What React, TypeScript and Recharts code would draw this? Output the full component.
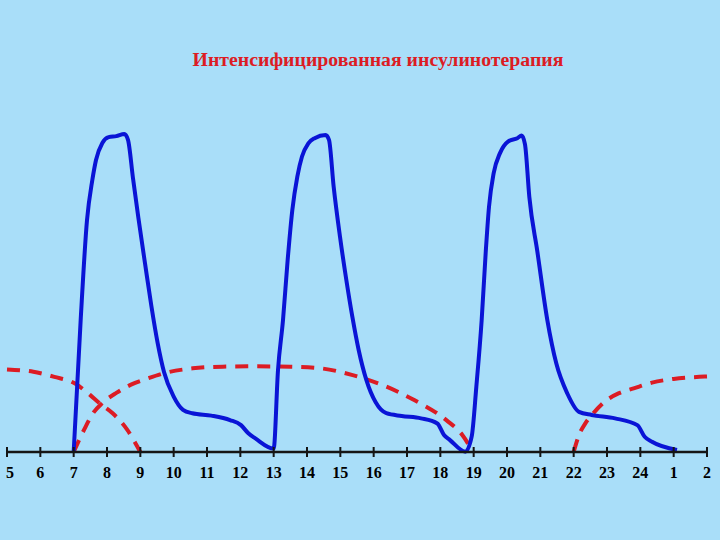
import { Line, LineChart, XAxis, YAxis } from "recharts";

// Hour-of-day axis: 5 ... 24, then 1, 2 of the next day (25, 26 internally).
const TICK_HOURS = [5, 6, 7, 8, 9, 10, 11, 12, 13, 14, 15, 16, 17, 18, 19, 20, 21, 22, 23, 24, 25, 26];
const TICK_LABELS = ["5", "6", "7", "8", "9", "10", "11", "12", "13", "14", "15", "16", "17", "18", "19", "20", "21", "22", "23", "24", "1", "2"];

// Short-acting insulin before each meal (7, 13, 19 h) - one continuous trace.
const SHORT_ACTING: [number, number][] = [
  [7.0, 0], [7.21, 38.8], [7.4, 68.2], [7.56, 80], [7.67, 85.9], [7.86, 90.9], [8.05, 92.6],
  [8.28, 92.9], [8.52, 93.5], [8.63, 91.8], [8.78, 80.5], [8.94, 69], [9.14, 55.5], [9.33, 43],
  [9.52, 32], [9.71, 23.5], [10.0, 16.3], [10.28, 12.4], [10.56, 11.4], [11.13, 10.7], [11.69, 9.4],
  [12.02, 7.9], [12.24, 5.5], [12.45, 4], [13.0, 1],
  [13.13, 24.1], [13.28, 38.8], [13.42, 56.5], [13.56, 71.2], [13.71, 81], [13.85, 86.9], [14.04, 90.8],
  [14.23, 92.3], [14.56, 93.2], [14.66, 91.8], [14.8, 78], [14.99, 63.3], [15.18, 50.6], [15.36, 39.8],
  [15.55, 30], [15.78, 21.2], [16.06, 14.6], [16.38, 11.4], [16.84, 10.6], [17.42, 9.9], [17.91, 8.4],
  [18.11, 5], [18.29, 3.5], [18.75, 0.1],
  [18.94, 4.5], [19.08, 19.2], [19.24, 38.8], [19.36, 58.5], [19.46, 72.1], [19.6, 82], [19.79, 87.9],
  [20.03, 91.3], [20.31, 92.3], [20.44, 93.1], [20.54, 90.5], [20.67, 75], [20.91, 59], [21.21, 38.8],
  [21.48, 26], [21.81, 17.2], [22.16, 11.8], [22.54, 10.9], [23.24, 9.9], [23.91, 7.9], [24.13, 4.5],
  [24.35, 3], [25.1, 0.6],
];

// Basal (intermediate) insulin, dashed: night dose tail, morning dose, evening dose.
const BASAL_NIGHT: [number, number][] = [
  [5.0, 24.3], [5.79, 23.6], [6.42, 22.1], [7.03, 20.2], [7.49, 16.8], [7.77, 14.4], [8.17, 11.4],
  [8.61, 6.5], [9.0, 0],
];
const BASAL_MORNING: [number, number][] = [
  [7.0, 0], [7.31, 6.5], [7.58, 11.4], [7.86, 14.4], [8.28, 17.4], [8.72, 19.8], [9.24, 21.7],
  [9.76, 23.3], [10.57, 24.6], [11.47, 25.1], [12.45, 25.2], [13.5, 25.1], [14.42, 24.6], [15.37, 22.6],
  [16.29, 19.6], [17.23, 15.2], [18.19, 9.3], [18.66, 5], [18.98, 0],
];
const BASAL_EVENING: [number, number][] = [
  [22.0, 0], [22.16, 5], [22.35, 8.4], [22.59, 11.4], [22.93, 14.8], [23.36, 17.3], [23.8, 18.7],
  [24.35, 20.4], [25.0, 21.5], [25.77, 22.1], [26.0, 22.2],
];

const toRows = (pts: [number, number][]) => pts.map(([h, v]) => ({ h, v }));

const COLORS = {
  bg: "#A9DEF9",
  blue: "#0A14D6",
  red: "#DC1C24",
  axis: "#151515",
};

const SERIF = "'Liberation Serif', 'Times New Roman', serif";

function HourTick({ x, y, index }: any) {
  return (
    <g>
      <line x1={x} x2={x} y1={y - 5} y2={y + 5} stroke={COLORS.axis} strokeWidth={2} />
      <text
        x={x}
        y={y + 26}
        dx={index === 0 ? 3 : 0}
        textAnchor="middle"
        fontFamily={SERIF}
        fontWeight="bold"
        fontSize={16}
        fill="#000"
      >
        {TICK_LABELS[index]}
      </text>
    </g>
  );
}

export default function App() {
  return (
    <div style={{ position: "absolute", left: 0, top: 0, width: 720, height: 540, background: COLORS.bg }}>
      <div
        style={{
          position: "absolute",
          left: 378,
          top: 50,
          transform: "translateX(-50%)",
          whiteSpace: "nowrap",
          fontFamily: SERIF,
          fontWeight: "bold",
          fontSize: 19.8,
          lineHeight: 1,
          color: COLORS.red,
        }}
      >
        Интенсифицированная инсулинотерапия
      </div>
      <LineChart width={720} height={540} margin={{ top: 112, right: 13, left: 7, bottom: 58 }}>
        <XAxis
          dataKey="h"
          type="number"
          domain={[5, 26]}
          ticks={TICK_HOURS}
          interval={0}
          height={30}
          tickSize={0}
          tickMargin={0}
          tickLine={false}
          tick={<HourTick />}
          axisLine={{ stroke: COLORS.axis, strokeWidth: 2.5 }}
          allowDuplicatedCategory={false}
        />
        <YAxis hide type="number" domain={[0, 100]} />
        <Line
          data={toRows(BASAL_NIGHT)}
          dataKey="v"
          type="monotone"
          stroke={COLORS.red}
          strokeWidth={4}
          strokeDasharray="13 9"
          dot={false}
          isAnimationActive={false}
        />
        <Line
          data={toRows(BASAL_MORNING)}
          dataKey="v"
          type="monotone"
          stroke={COLORS.red}
          strokeWidth={4}
          strokeDasharray="13 9"
          dot={false}
          isAnimationActive={false}
        />
        <Line
          data={toRows(BASAL_EVENING)}
          dataKey="v"
          type="monotone"
          stroke={COLORS.red}
          strokeWidth={4}
          strokeDasharray="13 9"
          dot={false}
          isAnimationActive={false}
        />
        <Line
          data={toRows(SHORT_ACTING)}
          dataKey="v"
          type="monotone"
          stroke={COLORS.blue}
          strokeWidth={4}
          dot={false}
          isAnimationActive={false}
        />
      </LineChart>
    </div>
  );
}
